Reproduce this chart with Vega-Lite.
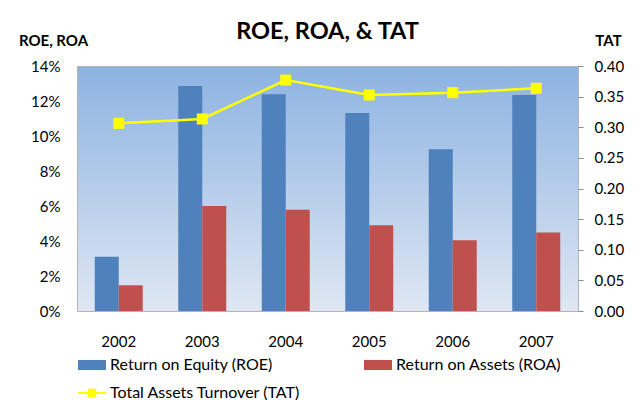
{
  "$schema": "https://vega.github.io/schema/vega-lite/v6.json",
  "width": 501,
  "height": 245,
  "autosize": {"type": "none"},
  "padding": {"left": 77, "top": 66, "right": 66, "bottom": 89},
  "background": "white",
  "datasets": {
    "bars": [
      {"year": "2002", "series": "Return on Equity (ROE)", "value": 0.031},
      {"year": "2002", "series": "Return on Assets (ROA)", "value": 0.0147},
      {"year": "2003", "series": "Return on Equity (ROE)", "value": 0.1286},
      {"year": "2003", "series": "Return on Assets (ROA)", "value": 0.06},
      {"year": "2004", "series": "Return on Equity (ROE)", "value": 0.1238},
      {"year": "2004", "series": "Return on Assets (ROA)", "value": 0.0579},
      {"year": "2005", "series": "Return on Equity (ROE)", "value": 0.1131},
      {"year": "2005", "series": "Return on Assets (ROA)", "value": 0.049},
      {"year": "2006", "series": "Return on Equity (ROE)", "value": 0.0924},
      {"year": "2006", "series": "Return on Assets (ROA)", "value": 0.0404},
      {"year": "2007", "series": "Return on Equity (ROE)", "value": 0.1234},
      {"year": "2007", "series": "Return on Assets (ROA)", "value": 0.0448}
    ],
    "tat": [
      {"year": "2002", "tat": 0.3064},
      {"year": "2003", "tat": 0.3135},
      {"year": "2004", "tat": 0.377},
      {"year": "2005", "tat": 0.3527},
      {"year": "2006", "tat": 0.3564},
      {"year": "2007", "tat": 0.3636}
    ]
  },
  "title": {
    "text": "ROE, ROA, & TAT",
    "font": "Lato",
    "fontSize": 23.5,
    "fontWeight": "bold",
    "color": "#000000",
    "anchor": "middle",
    "offset": 4,
    "dy": 14
  },
  "config": {
    "font": "Lato",
    "view": {
      "fill": {
        "gradient": "linear",
        "x1": 0, "y1": 0, "x2": 0, "y2": 1,
        "stops": [
          {"offset": 0, "color": "#8DB3E2"},
          {"offset": 1, "color": "#DFE7F3"}
        ]
      },
      "stroke": "#B4B4B4"
    }
  },
  "layer": [
    {
      "data": {"name": "bars"},
      "mark": {"type": "bar"},
      "encoding": {
        "x": {
          "field": "year",
          "type": "nominal",
          "scale": {"paddingInner": 0, "paddingOuter": 0},
          "axis": {
            "title": null,
            "labelAngle": 0,
            "ticks": false,
            "domain": false,
            "labelFontSize": 15,
            "labelPadding": 23,
            "labelColor": "#000000"
          }
        },
        "xOffset": {
          "field": "series",
          "type": "nominal",
          "scale": {
            "domain": ["Return on Equity (ROE)", "Return on Assets (ROA)"],
            "paddingInner": 0,
            "paddingOuter": 0.74
          }
        },
        "y": {
          "field": "value",
          "type": "quantitative",
          "scale": {"domain": [0, 0.14]},
          "axis": {
            "values": [0, 0.02, 0.04, 0.06, 0.08, 0.1, 0.12, 0.14],
            "format": ".0%",
            "grid": false,
            "ticks": false,
            "domain": false,
            "labelFontSize": 15,
            "labelColor": "#000000",
            "labelPadding": 17,
            "title": "ROE, ROA",
            "titleAngle": 0,
            "titleX": -24,
            "titleY": -26,
            "titleAlign": "center",
            "titleBaseline": "middle",
            "titleFontSize": 15,
            "titleFontWeight": "bold",
            "titleColor": "#000000"
          }
        },
        "color": {
          "field": "series",
          "type": "nominal",
          "scale": {
            "domain": ["Return on Equity (ROE)", "Return on Assets (ROA)", "Total Assets Turnover (TAT)"],
            "range": ["#4F81BD", "#C0504D", "#FFFF00"]
          },
          "legend": {
            "title": null,
            "orient": "none",
            "legendX": 1,
            "legendY": 285,
            "columns": 2,
            "direction": "horizontal",
            "padding": 0,
            "columnPadding": 63,
            "rowPadding": 6,
            "symbolSize": 784,
            "symbolOpacity": 1,
            "symbolStrokeWidth": 0,
            "labelFontSize": 16,
            "labelColor": "#000000",
            "labelOffset": 4,
            "labelLimit": 300,
            "encode": {
              "symbols": {
                "update": {
                  "shape": {"signal": "datum.value === 'Total Assets Turnover (TAT)' ? 'M-1,-0.08H1V0.08H-1Z M-0.3,-0.3H0.3V0.3H-0.3Z' : 'M-1,-0.36H1V0.36H-1Z'"}
                }
              }
            }
          }
        }
      }
    },
    {
      "data": {"name": "tat"},
      "mark": {
        "type": "line",
        "color": "#FFFF00",
        "strokeWidth": 2.5,
        "point": {"shape": "square", "size": 121, "filled": true, "color": "#FFFF00", "opacity": 1}
      },
      "encoding": {
        "x": {"field": "year", "type": "nominal"},
        "y": {
          "field": "tat",
          "type": "quantitative",
          "scale": {"domain": [0, 0.4]},
          "axis": {
            "orient": "right",
            "values": [0, 0.05, 0.1, 0.15, 0.2, 0.25, 0.3, 0.35, 0.4],
            "format": ".2f",
            "grid": false,
            "domain": false,
            "ticks": true,
            "tickSize": 5,
            "tickColor": "#8C8C8C",
            "labelFontSize": 15,
            "labelColor": "#000000",
            "labelPadding": 11,
            "title": "TAT",
            "titleAngle": 0,
            "titleX": 30,
            "titleY": -26,
            "titleAlign": "center",
            "titleBaseline": "middle",
            "titleFontSize": 15,
            "titleFontWeight": "bold",
            "titleColor": "#000000"
          }
        }
      }
    }
  ],
  "resolve": {"scale": {"y": "independent"}}
}
